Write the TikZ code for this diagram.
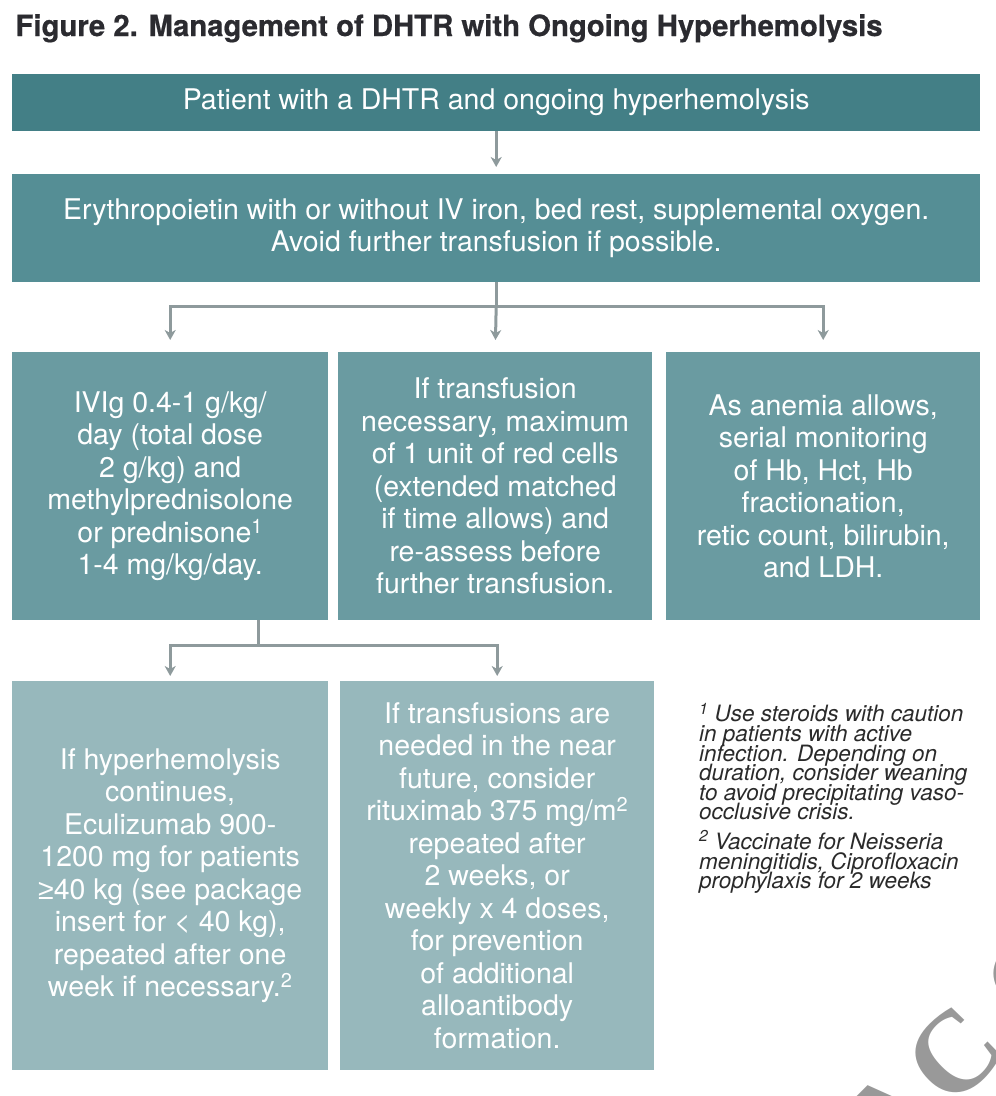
\documentclass[tikz,border=0pt]{standalone}
\usepackage{fontspec}
\setmainfont{TeX Gyre Heros}
\newfontfamily\titlefont[FakeBold=0.6]{TeX Gyre Heros}
\newfontfamily\symfont{Liberation Sans}
\newfontfamily\wmfont{Liberation Serif}
\newcommand\notestyle{\itshape\fontsize{22.5}{19.6}\selectfont\setlength{\lineskiplimit}{-50pt}}
\usetikzlibrary{arrows.meta,positioning,calc}
\definecolor{topteal}{HTML}{437F86}
\definecolor{stepteal}{HTML}{558E95}
\definecolor{midteal}{HTML}{6A9BA1}
\definecolor{lowteal}{HTML}{97B8BC}
\definecolor{linkgray}{HTML}{8E9A9C}
\definecolor{titleink}{HTML}{2B2B30}
\definecolor{noteink}{HTML}{2A2A2A}
\definecolor{wmgray}{HTML}{999999}

\begin{document}
\begin{tikzpicture}[x=1pt, y=-1pt, >={Stealth[length=10pt,width=11pt,inset=3pt]},
  block/.style={anchor=north west, inner sep=0pt, align=center, text=white,
    font=\fontsize{28.5}{32.5}\selectfont},
  link/.style={draw=linkgray, line width=3pt}]
\useasboundingbox (0,0) rectangle (996,1096);
% watermark in the corner
\begin{scope}
\clip (0,0) rectangle (996,1096);
\node[rotate=45, text=wmgray, font=\wmfont\bfseries\fontsize{115}{115}\selectfont] (stamp) at (961,1047)
  {A\kern8pt C\kern28pt C};
\end{scope}
\node[anchor=base west, text=titleink, font=\titlefont\bfseries\fontsize{29.3}{32}\selectfont] (title) at (12,36)
  {Figure 2. Management of DHTR with Ongoing Hyperhemolysis};
\node[block, fill=topteal, minimum width=968pt, minimum height=57pt] (patient) at (12,74)
  {Patient with a DHTR and ongoing hyperhemolysis};
\node[block, fill=stepteal, minimum width=968pt, minimum height=108pt] (support) at (12,174)
  {Erythropoietin with or without IV iron, bed rest, supplemental oxygen.\\
   Avoid further transfusion if possible.};
\node[block, fill=midteal, minimum width=316pt, minimum height=268pt] (ivig) at (12,352)
  {IVIg 0.4-1 g/kg/\\ day (total dose\\ 2 g/kg) and\\ methylprednisolone\\
   or prednisone\textsuperscript{1}\\ 1-4 mg/kg/day.};
\node[block, fill=midteal, minimum width=314pt, minimum height=268pt] (redcell) at (338,352)
  {If transfusion\\ necessary, maximum\\ of 1 unit of red cells\\ (extended matched\\
   if time allows) and\\ re-assess before\\ further transfusion.};
\node[block, fill=midteal, minimum width=314pt, minimum height=268pt] (monitor) at (666,352)
  {As anemia allows,\\ serial monitoring\\ of Hb, Hct, Hb\\ fractionation,\\
   retic count, bilirubin,\\ and LDH.};
\node[block, fill=lowteal, minimum width=316pt, minimum height=389pt] (eculiz) at (12,681)
  {If hyperhemolysis\\ continues,\\ Eculizumab 900-\\ 1200 mg for patients\\
   {\symfont ≥}40 kg (see package\\ insert for < 40 kg),\\ repeated after one\\
   week if necessary.\textsuperscript{2}};
\node[block, fill=lowteal, minimum width=314pt, minimum height=389pt] (ritux) at (340,681)
  {If transfusions are\\ needed in the near\\ future, consider\\
   rituximab 375 mg/m\textsuperscript{2}\\ repeated after\\ 2 weeks, or\\
   weekly x 4 doses,\\ for prevention\\ of additional\\ alloantibody\\ formation.};
\node[anchor=north west, inner sep=0pt, align=left, text=noteink, font=\notestyle] (notes) at (699,703)
  {\textsuperscript{1} Use steroids with caution\\ in patients with active\\
   infection. Depending on\\ duration, consider weaning\\ to avoid precipitating vaso-\\
   occlusive crisis.\\[10pt]
   \textsuperscript{2} Vaccinate for Neisseria\\ meningitidis, Ciprofloxacin\\
   prophylaxis for 2 weeks};
% connectors
\draw[link, ->, shorten >=7pt] (patient) -- (support);
\draw[link] (support.south) -- ++(0,24) coordinate (fork);
\draw[link, ->, shorten >=12pt] (fork) -| (ivig.north);
\draw[link, ->, shorten >=12pt] (fork) -- (redcell.north);
\draw[link, ->, shorten >=12pt] (fork) -| (monitor.north);
\coordinate (drop) at ([xshift=88pt]ivig.south);
\draw[link] (drop) -- ++(0,25) coordinate (fork2);
\draw[link, ->, shorten >=5pt] (fork2) -| (eculiz.north);
\draw[link, ->, shorten >=5pt] (fork2) -| (ritux.north);
\end{tikzpicture}
\end{document}
